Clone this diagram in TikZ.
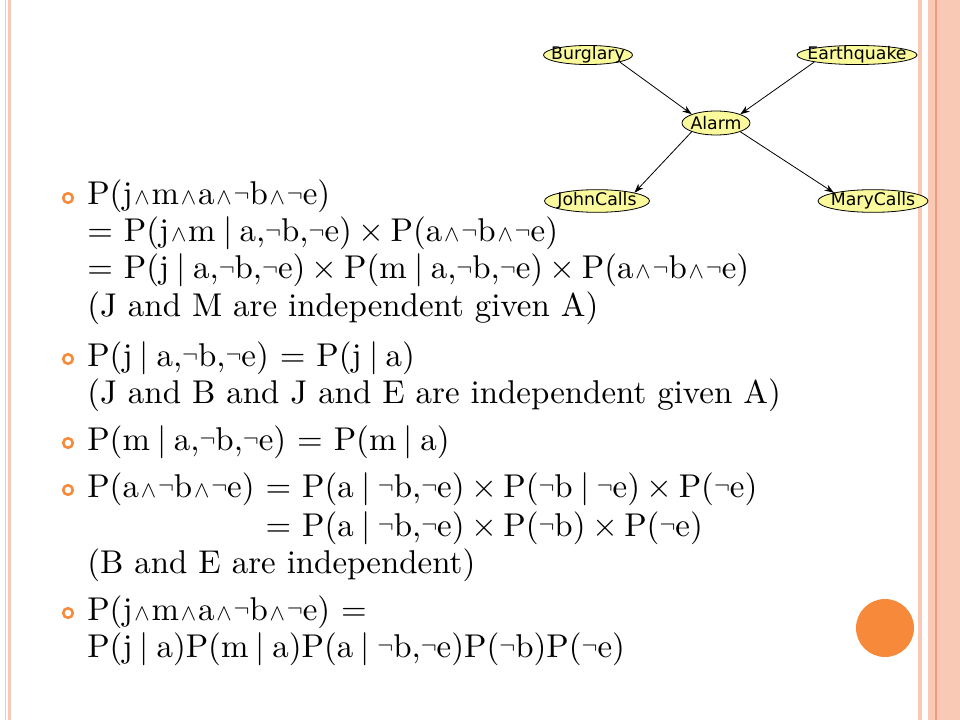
\documentclass[tikz,border=0pt]{standalone}
\usepackage{amsmath,amssymb}
\usepackage{graphicx}
\usepackage{fontspec}
\usepackage{xcolor}
\usepackage{tikz}
\usetikzlibrary{arrows.meta,shapes.geometric}
\newfontfamily\slidefont{lmroman10-regular}[Extension=.otf]
\newfontfamily\netfont{DejaVu Sans}
\definecolor{stripe}{HTML}{F9C9B5}
\definecolor{stripedark}{HTML}{EE9E7C}
\definecolor{accent}{HTML}{F68A3A}
\definecolor{bnfill}{HTML}{FAFA9C}
\newcommand{\aand}{\ensuremath{\mkern1mu{\scriptstyle\wedge}\mkern1mu}}
\newcommand{\nt}{\raisebox{0.12em}{\scalebox{0.72}{$\neg$}}}
\newcommand{\gv}{\ensuremath{\mkern4mu|\mkern4mu}}
\newcommand{\tm}{\ensuremath{\mkern3.5mu\times\mkern3.5mu}}
\tikzset{
  bn/.style={ellipse, draw=black, line width=0.6pt, fill=bnfill, inner xsep=-8pt, inner ysep=-2.5pt, font=\netfont\fontsize{13}{14}\selectfont},
  edge/.style={draw=black, line width=0.6pt, -{Stealth[length=7pt,width=5pt]}},
  txt/.style={anchor=base west, inner sep=0pt, font=\slidefont\fontsize{24.7}{29}\selectfont},
  bullet/.style={draw=accent, line width=1.9pt},
}

\begin{document}
\begin{tikzpicture}[x=0.75pt, y=-0.75pt]
  \useasboundingbox (0,0) rectangle (960,720);
  \fill[white] (0,0) rectangle (960,720);

  % slide border
  \fill[stripe] (5,0) rectangle (6,720);
  \fill[stripe] (7.5,0) rectangle (11,720);
  \fill[stripe] (918,0) rectangle (922,720);
  \fill[stripe] (928,0) rectangle (960,720);
  \fill[stripedark] (934.5,0) rectangle (936.5,720);
  \fill[accent] (885,628) circle (21.75pt);

  % network
  \node[bn, minimum width=66.8pt, minimum height=14.3pt] (burglary) at (588,55) {Burglary};
  \node[bn, minimum width=90pt, minimum height=14.3pt] (earthquake) at (857,55) {Earthquake};
  \node[bn, minimum width=51pt, minimum height=18pt] (alarm) at (716,123) {Alarm};
  \node[bn, minimum width=78.8pt, minimum height=17pt] (john) at (597,201) {JohnCalls};
  \node[bn, minimum width=82.5pt, minimum height=17pt] (mary) at (873,201) {MaryCalls};
  \draw[edge] (burglary.south east) -- (alarm.north west);
  \draw[edge] (earthquake.south west) -- (alarm.north east);
  \draw[edge] (alarm.south west) -- (john.north east);
  \draw[edge] (alarm.south east) -- (mary.north west);

  % bullets
  \foreach \yb in {205,366,450,497,620}
    \draw[bullet] (68,\yb-7) circle (3.6pt);

  \node[txt] (l1) at (87,205) {P(j\aand m\aand a\aand\nt b\aand\nt e)};
  \node[txt] (l2) at (87,242) {= P(j\aand m\gv a,\nt b,\nt e)\tm P(a\aand\nt b\aand\nt e)};
  \node[txt] (l3) at (87,279) {= P(j\gv a,\nt b,\nt e)\tm P(m\gv a,\nt b,\nt e)\tm P(a\aand\nt b\aand\nt e)};
  \node[txt] (l4) at (87,316) {(J and M are independent given A)};
  \node[txt] (l5) at (87,366) {P(j\gv a,\nt b,\nt e) = P(j\gv a)};
  \node[txt] (l6) at (87,403) {(J and B and J and E are independent given A)};
  \node[txt] (l7) at (87,450) {P(m\gv a,\nt b,\nt e) = P(m\gv a)};
  \node[txt] (l8) at (87,497) {P(a\aand\nt b\aand\nt e) = P(a\gv\nt b,\nt e)\tm P(\nt b\gv\nt e)\tm P(\nt e)};
  \node[txt] (l9) at (87,536) {\phantom{P(a\aand\nt b\aand\nt e)} = P(a\gv\nt b,\nt e)\tm P(\nt b)\tm P(\nt e)};
  \node[txt] (l10) at (87,573) {(B and E are independent)};
  \node[txt] (l11) at (87,620) {P(j\aand m\aand a\aand\nt b\aand\nt e) =};
  \node[txt] (l12) at (87,657) {P(j\gv a)P(m\gv a)P(a\gv\nt b,\nt e)P(\nt b)P(\nt e)};
\end{tikzpicture}
\end{document}
